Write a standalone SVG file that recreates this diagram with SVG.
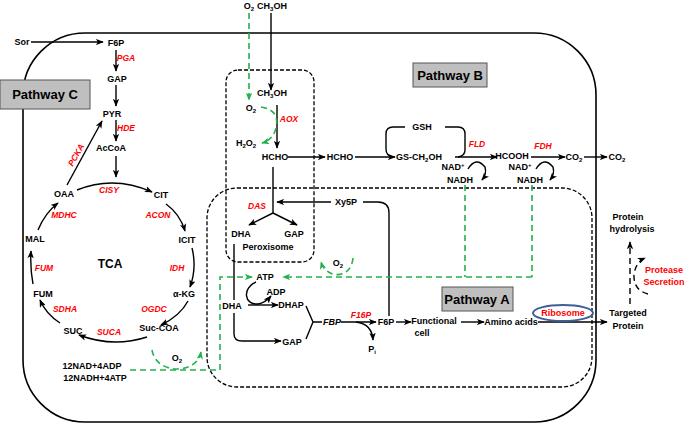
<svg xmlns="http://www.w3.org/2000/svg" width="685" height="425" viewBox="0 0 685 425">
<defs>
<style>
text{font-family:"Liberation Sans",Arial,sans-serif;font-weight:bold;font-size:9px;fill:#000;text-anchor:middle}
.en{fill:#ff0000;font-style:italic;font-size:8.5px}
.big{font-size:13px}
.tca{font-size:12px}
.ln{fill:none;stroke:#000;stroke-width:1.4}
.gr{fill:none;stroke:#22b14c;stroke-width:1.6;stroke-dasharray:6,4}
.bd{fill:none;stroke:#000;stroke-width:1.4;stroke-dasharray:6,4}
.box{fill:none;stroke:#000;stroke-width:1.3;stroke-dasharray:4,2}
.pb{fill:#bfbfbf;stroke:#555;stroke-width:1}
.sub{font-size:6px}
</style>
<marker id="ah" viewBox="0 0 10 8" refX="9" refY="4" markerWidth="8" markerHeight="6.4" orient="auto" markerUnits="userSpaceOnUse"><path d="M0,0 L10,4 L0,8 L2.5,4 z" fill="#000"/></marker>
<marker id="ag" viewBox="0 0 10 8" refX="9" refY="4" markerWidth="8" markerHeight="6.4" orient="auto" markerUnits="userSpaceOnUse"><path d="M0,0 L10,4 L0,8 L2.5,4 z" fill="#22b14c"/></marker>
</defs>
<rect width="685" height="425" fill="#fff"/>

<g id="compartments">
<rect id="cell" x="23" y="33" width="573" height="389" rx="62" fill="none" stroke="#000" stroke-width="1.6"/>
<rect id="pathwayA-area" class="box" x="207" y="188" width="385" height="199" rx="30"/>
<rect id="peroxisome" class="box" x="226" y="70" width="88" height="192" rx="12"/>
</g>

<g id="connectors">
<path class="ln" d="M31,42 L103,42" marker-end="url(#ah)"/>
<path class="ln" d="M116,50 L116,71" marker-end="url(#ah)"/>
<path class="ln" d="M116,85 L116,106" marker-end="url(#ah)"/>
<path class="ln" d="M116,120 L116,141" marker-end="url(#ah)"/>
<path class="ln" d="M116,156 L116,177" marker-end="url(#ah)"/>
<path class="ln" d="M67,185 L102,121" marker-end="url(#ah)"/>
<path class="ln" d="M77,190 Q114,175 152,192" marker-end="url(#ah)"/>
<path class="ln" d="M166,204 Q180,214 185,231" marker-end="url(#ah)"/>
<path class="ln" d="M192,248 Q197,268 190,287" marker-end="url(#ah)"/>
<path class="ln" d="M188,301 Q180,316 161,325" marker-end="url(#ah)"/>
<path class="ln" d="M147,337 Q113,348 79,335" marker-end="url(#ah)"/>
<path class="ln" d="M60,323 Q46,314 40,300" marker-end="url(#ah)"/>
<path class="ln" d="M33,284 Q30,268 31,251" marker-end="url(#ah)"/>
<path class="ln" d="M38,230 Q45,213 58,203" marker-end="url(#ah)"/>
<path class="ln" d="M271,13 L271,90" marker-end="url(#ah)"/>
<path class="ln" d="M277,105 L277,148" marker-end="url(#ah)"/>
<path class="ln" d="M288,157 L325,157" marker-end="url(#ah)"/>
<path class="ln" d="M355,157 L395,157" marker-end="url(#ah)"/>
<path class="ln" d="M405,127 L393,127 Q386,127 386,134 L386,149 Q386,156 393,157"/>
<path class="ln" d="M445,127 L458,127 Q465,127 465,134 L465,150 Q465,156 458,157"/>
<path class="ln" d="M455,157 L497,157" marker-end="url(#ah)"/>
<path class="ln" d="M468,169 Q476,156 485,167 Q487,174 482,180" marker-end="url(#ah)"/>
<path class="ln" d="M531,157 L565,157" marker-end="url(#ah)"/>
<path class="ln" d="M536,169 Q544,156 553,167 Q555,174 550,180" marker-end="url(#ah)"/>
<path class="ln" d="M584,157 L607,157" marker-end="url(#ah)"/>
<path class="ln" d="M273,167 L273,213"/>
<path class="ln" d="M273,213 L249,225" marker-end="url(#ah)"/>
<path class="ln" d="M273,213 L297,225" marker-end="url(#ah)"/>
<path class="ln" d="M331,202 L277,202" marker-end="url(#ah)"/>
<path class="ln" d="M363,202 L378,202 Q389,202 389,213 L389,316"/>
<path class="ln" d="M234,244 L234,300"/>
<path class="ln" d="M234,313 L234,334 Q234,341 242,341 L281,341" marker-end="url(#ah)"/>
<path class="ln" d="M248,305 L278,305" marker-end="url(#ah)"/>
<path class="ln" d="M256,282 C242,288 244,305 258,304 Q265,303 271,296" marker-end="url(#ah)"/>
<path class="ln" d="M306,306 L313,322 L306,339 M313,322 L322,322"/>
<path class="ln" d="M341,322 L376,322" marker-end="url(#ah)"/>
<path class="ln" d="M356,322 Q372,324 373,340" marker-end="url(#ah)"/>
<path class="ln" d="M396,322 L411,322" marker-end="url(#ah)"/>
<path class="ln" d="M461,322 L484,322" marker-end="url(#ah)"/>
<path class="ln" d="M538,322 L607,322" marker-end="url(#ah)"/>
<path class="bd" d="M630,304 L630,242" marker-end="url(#ah)"/>
<path class="bd" d="M648,294 Q633,290 634,274 Q636,262 645,258" marker-end="url(#ah)"/>
<path class="gr" d="M249,13 L249,100" marker-end="url(#ag)"/>
<path class="gr" d="M261,107 Q280,110 276,128 Q273,140 262,143" marker-end="url(#ag)"/>
<path class="gr" d="M130,370 L220,370 L220,277 L252,277" marker-end="url(#ag)"/>
<path class="gr" d="M465,185 L465,277 M532,185 L532,277"/>
<path class="gr" d="M532,277 L283,277" marker-end="url(#ag)"/>
<path class="gr" d="M353,258 C351,280 326,279 321,262" marker-end="url(#ag)"/>
<path class="gr" d="M152,350 C156,375 197,375 201,352" marker-end="url(#ag)"/>
</g>

<g id="pathway-labels">
<g id="pathwayC"><rect class="pb" x="0" y="80" width="90" height="29"/><text class="big" x="45" y="99">Pathway C</text></g>
<g id="pathwayB"><rect class="pb" x="413" y="63" width="74" height="24"/><text class="big" x="450" y="80">Pathway B</text></g>
<g id="pathwayA"><rect class="pb" x="442" y="287" width="71" height="24"/><text class="big" x="477" y="304">Pathway A</text></g>
</g>

<g id="tca-nodes">
<g id="Sor"><text x="22" y="45">Sor</text></g>
<g id="F6P-c"><text x="116" y="46">F6P</text></g>
<g id="PGA"><text class="en" x="126" y="61">PGA</text></g>
<g id="GAP-c"><text x="117" y="82">GAP</text></g>
<g id="PYR"><text x="112" y="117">PYR</text></g>
<g id="HDE"><text class="en" x="126" y="131">HDE</text></g>
<g id="AcCoA"><text x="111" y="151">AcCoA</text></g>
<g id="PCKA"><text class="en" transform="translate(76,155) rotate(-61)" x="0" y="3">PCKA</text></g>
<g id="OAA"><text x="64" y="197">OAA</text></g>
<g id="CISY"><text class="en" x="109" y="193">CISY</text></g>
<g id="CIT"><text x="161" y="198">CIT</text></g>
<g id="MDHC"><text class="en" x="64" y="218">MDHC</text></g>
<g id="ACON"><text class="en" x="158" y="218">ACON</text></g>
<g id="MAL"><text x="35" y="242">MAL</text></g>
<g id="ICIT"><text x="187" y="243">ICIT</text></g>
<g id="TCA"><text class="tca" x="110" y="268">TCA</text></g>
<g id="FUM-e"><text class="en" x="44" y="271">FUM</text></g>
<g id="IDH"><text class="en" x="177" y="271">IDH</text></g>
<g id="FUM"><text x="43" y="297">FUM</text></g>
<g id="SDHA"><text class="en" x="65" y="312">SDHA</text></g>
<g id="aKG"><text x="184" y="297">α-KG</text></g>
<g id="OGDC"><text class="en" x="154" y="312">OGDC</text></g>
<g id="SUC"><text x="73" y="334">SUC</text></g>
<g id="SUCA"><text class="en" x="109" y="335">SUCA</text></g>
<g id="SucCOA"><text x="159" y="331">Suc-COA</text></g>
<g id="NAD-ATP"><text x="92" y="369">12NAD+4ADP</text><text x="95" y="381">12NADH+4ATP</text></g>
<g id="O2-c"><text x="177" y="361">O<tspan class="sub" dy="2">2</tspan></text></g>
</g>

<g id="pathB-nodes">
<g id="O2-top"><text x="249" y="9">O<tspan class="sub" dy="2">2</tspan></text></g>
<g id="CH3OH-top"><text x="272" y="9">CH<tspan class="sub" dy="2">3</tspan><tspan dy="-2">OH</tspan></text></g>
<g id="CH3OH"><text x="272" y="96">CH<tspan class="sub" dy="2">3</tspan><tspan dy="-2">OH</tspan></text></g>
<g id="O2-in"><text x="251" y="111">O<tspan class="sub" dy="2">2</tspan></text></g>
<g id="AOX"><text class="en" x="289" y="122">AOX</text></g>
<g id="H2O2"><text x="246" y="146">H<tspan class="sub" dy="2">2</tspan><tspan dy="-2">O</tspan><tspan class="sub" dy="2">2</tspan></text></g>
<g id="HCHO-in"><text x="275" y="160">HCHO</text></g>
<g id="HCHO"><text x="340" y="160">HCHO</text></g>
<g id="GSH"><text x="422" y="130">GSH</text></g>
<g id="GSCH2OH"><text x="419" y="160">GS-CH<tspan class="sub" dy="2">2</tspan><tspan dy="-2">OH</tspan></text></g>
<g id="FLD"><text class="en" x="477" y="147">FLD</text></g>
<g id="NAD1"><text x="453" y="170">NAD<tspan class="sub" dy="-3">+</tspan></text><text x="460" y="183">NADH</text></g>
<g id="HCOOH"><text x="512" y="159">HCOOH</text></g>
<g id="FDH"><text class="en" x="543" y="149">FDH</text></g>
<g id="NAD2"><text x="520" y="170">NAD<tspan class="sub" dy="-3">+</tspan></text><text x="530" y="183">NADH</text></g>
<g id="CO2-in"><text x="574" y="160">CO<tspan class="sub" dy="2">2</tspan></text></g>
<g id="CO2-out"><text x="617" y="160">CO<tspan class="sub" dy="2">2</tspan></text></g>
</g>

<g id="pathA-nodes">
<g id="DAS"><text class="en" x="257" y="209">DAS</text></g>
<g id="Xy5P"><text x="346" y="205">Xy5P</text></g>
<g id="DHA-p"><text x="241" y="237">DHA</text></g>
<g id="GAP-p"><text x="294" y="237">GAP</text></g>
<g id="Peroxisome"><text x="268" y="250">Peroxisome</text></g>
<g id="ATP"><text x="265" y="280">ATP</text></g>
<g id="ADP"><text x="276" y="295">ADP</text></g>
<g id="O2-a"><text x="338" y="266">O<tspan class="sub" dy="2">2</tspan></text></g>
<g id="DHA"><text x="232" y="309">DHA</text></g>
<g id="DHAP"><text x="291" y="308">DHAP</text></g>
<g id="GAP"><text x="292" y="345">GAP</text></g>
<g id="FBP"><text x="332" y="325" font-style="italic">FBP</text></g>
<g id="F16P"><text class="en" x="361" y="318">F16P</text></g>
<g id="F6P"><text x="386" y="325">F6P</text></g>
<g id="Pi"><text x="372" y="352">P<tspan class="sub" dy="2">i</tspan></text></g>
<g id="Functional"><text x="434" y="324">Functional</text><text x="422" y="336">cell</text></g>
<g id="Amino"><text x="511" y="325">Amino acids</text></g>
<g id="Ribosome"><ellipse cx="563" cy="313" rx="30" ry="8" fill="none" stroke="#3d5f9a" stroke-width="2"/><text x="563" y="316" style="fill:#ff0000">Ribosome</text></g>
<g id="Targeted"><text x="628" y="316">Targeted</text><text x="628" y="329">Protein</text></g>
<g id="Hydrolysis"><text x="628" y="220">Protein</text><text x="632" y="232">hydrolysis</text></g>
<g id="Protease"><text x="664" y="273" style="fill:#ff0000">Protease</text><text x="664" y="285" style="fill:#ff0000">Secretion</text></g>
</g>
</svg>
